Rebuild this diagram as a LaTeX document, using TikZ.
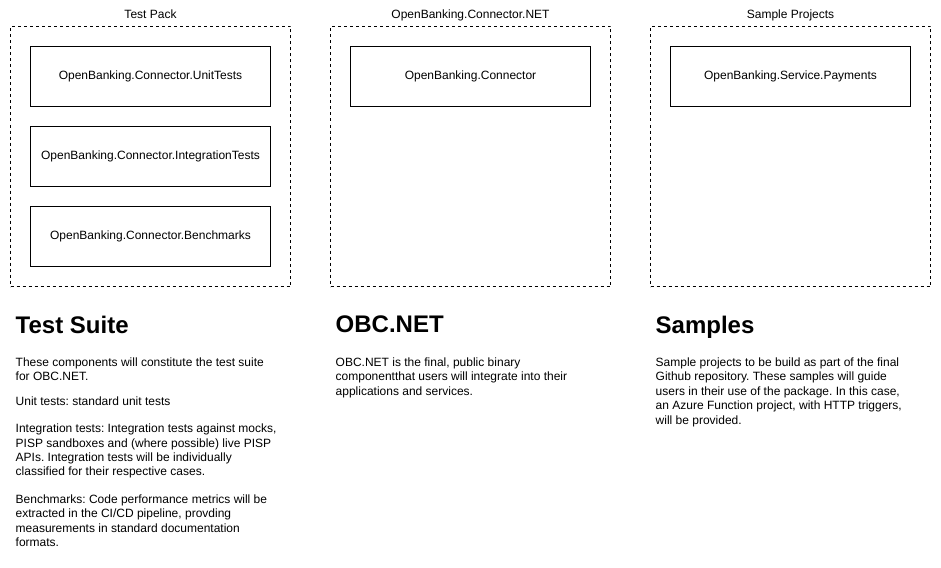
\documentclass[tikz,border=0pt]{standalone}
\usepackage{fontspec}
\setmainfont{Liberation Sans}
\frenchspacing
\begin{document}
\begin{tikzpicture}[x=1pt,y=-1pt,
  container/.style={draw=black, line width=1pt, dash pattern=on 3pt off 3pt, minimum width=280pt, minimum height=260pt, inner sep=0pt},
  compbox/.style={draw=black, line width=1pt, minimum width=240pt, minimum height=60pt, inner sep=0pt, font=\fontsize{12}{14.4}\selectfont},
  caption/.style={anchor=base, inner sep=0pt, font=\fontsize{12}{14.4}\selectfont},
  heading/.style={anchor=north west, inner sep=0pt, font=\bfseries\fontsize{24}{28.8}\selectfont},
  para/.style={anchor=north west, inner sep=0pt, align=left, font=\frenchspacing\fontsize{12}{14.4}\selectfont}]
\useasboundingbox[fill=white] (0,0) rectangle (941,567);

% containers
\node[container] (c1) at (150.5,156.5) {};
\node[container] (c2) at (470.5,156.5) {};
\node[container] (c3) at (790.5,156.5) {};

\node[caption] (t1) at (150.5,18.6) {Test Pack};
\node[caption] (t2) at (470.5,18.6) {OpenBanking.Connector.NET};
\node[caption] (t3) at (790.5,18.6) {Sample Projects};

% components
\node[compbox] (b1) at (150.5,76.5) {OpenBanking.Connector.UnitTests};
\node[compbox] (b2) at (150.5,156.5) {OpenBanking.Connector.IntegrationTests};
\node[compbox] (b3) at (150.5,236.5) {OpenBanking.Connector.Benchmarks};
\node[compbox] (b4) at (470.5,76.5) {OpenBanking.Connector};
\node[compbox] (b5) at (790.5,76.5) {OpenBanking.Service.Payments};

% headings
\node[heading] (h1) at (15.5,315.5) {Test Suite};
\node[heading] (h2) at (335.5,315.5) {OBC.NET};
\node[heading] (h3) at (655.5,315.5) {Samples};

% paragraphs
\node[para] (p1) at (15.5,357.5) {These components will constitute the test suite\\for OBC.NET.};
\node[para] (p2) at (15.5,397) {Unit tests: standard unit tests};
\node[para] (p3) at (15.5,423.8) {Integration tests: Integration tests against mocks,\\PISP sandboxes and (where possible) live PISP\\APIs. Integration tests will be individually\\classified for their respective cases.};
\node[para] (p4) at (15.5,494.5) {Benchmarks: Code performance metrics will be\\extracted in the CI/CD pipeline, provding\\measurements in standard documentation\\formats.};

\node[para] (q1) at (335.5,357.5) {OBC.NET is the final, public binary\\componentthat users will integrate into their\\applications and services.};

\node[para] (s1) at (655.5,357.5) {Sample projects to be build as part of the final\\Github repository. These samples will guide\\users in their use of the package. In this case,\\an Azure Function project, with HTTP triggers,\\will be provided.};
\end{tikzpicture}
\end{document}
